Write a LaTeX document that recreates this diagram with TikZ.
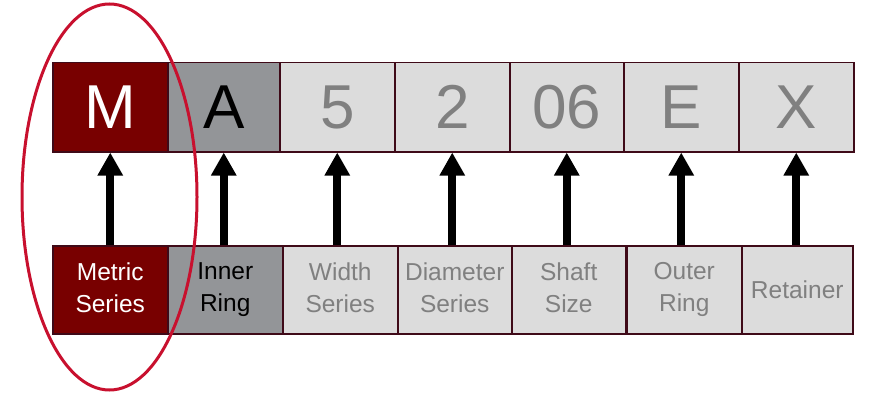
\documentclass[tikz,border=0pt]{standalone}
\usepackage{fontspec}
\setmainfont{Liberation Sans}
\usetikzlibrary{arrows.meta}
\definecolor{darkred}{HTML}{780000}
\definecolor{midgray}{HTML}{939598}
\definecolor{lightgray}{HTML}{DCDCDC}
\definecolor{textgray}{HTML}{808080}
\definecolor{edgecol}{HTML}{3F0A18}
\definecolor{ringcol}{HTML}{C8102E}
\newcommand{\dg}{\vphantom{g}}
\tikzset{
  topbox/.style={draw=edgecol, line width=1.5pt, rectangle, inner sep=0pt, anchor=north west,
    minimum height=89pt, font=\fontsize{62}{62}\selectfont},
  botbox/.style={draw=edgecol, line width=1.5pt, rectangle, inner sep=0pt, anchor=north west,
    minimum height=88pt, align=center, font=\fontsize{24.5}{32}\selectfont},
  cred/.style={fill=darkred, text=white},
  cmid/.style={fill=midgray, text=black},
  clight/.style={fill=lightgray, text=textgray},
  uparrow/.style={-{Triangle[width=24pt,length=23pt]}, line width=8pt, black},
  ring/.style={draw=ringcol, line width=3pt}
}
\begin{document}
\begin{tikzpicture}[x=1pt,y=-1pt]
\useasboundingbox (0,0) rectangle (869,393);
% top row
\node[topbox,cred,minimum width=115pt] (t1) at (52,62) {M};
\node[topbox,cmid,minimum width=112pt] (t2) at (167,62) {A};
\node[topbox,clight,minimum width=115pt] (t3) at (279,62) {5};
\node[topbox,clight,minimum width=115pt] (t4) at (394,62) {2};
\node[topbox,clight,minimum width=114pt] (t5) at (509,62) {06};
\node[topbox,clight,minimum width=115pt] (t6) at (623,62) {E};
\node[topbox,clight,minimum width=115pt] (t7) at (738,62) {X};
% bottom row
\node[botbox,cred,minimum width=115pt] (b1) at (52,245) {Metric\\Series\dg};
\node[botbox,cmid,minimum width=115pt] (b2) at (167,245) {Inner\\Ring\dg};
\node[botbox,clight,minimum width=115pt] (b3) at (282,245) {Width\\Series\dg};
\node[botbox,clight,minimum width=114pt] (b4) at (397,245) {Diameter\\Series\dg};
\node[botbox,clight,minimum width=114pt] (b5) at (511,245) {Shaft\\Size\dg};
\node[botbox,clight,minimum width=115pt] (b6) at (626,245) {Outer\\Ring\dg};
\node[botbox,clight,minimum width=111pt] (b7) at (741,245) {Retainer};
% arrows
\foreach \i in {1,...,7}{
  \draw[uparrow] (t\i.south |- b\i.north) -- (t\i.south);
}
% highlight ring
\draw[ring] (109.5,197) ellipse [x radius=87.5, y radius=-193];
\end{tikzpicture}
\end{document}
